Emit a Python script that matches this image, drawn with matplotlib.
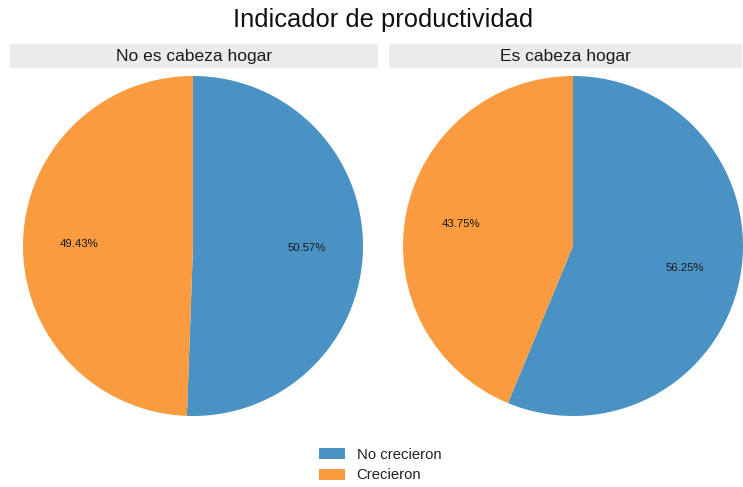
import matplotlib
matplotlib.use("Agg")
import matplotlib.pyplot as plt
from matplotlib.patches import Rectangle, Patch
import numpy as np

plt.rcParams['font.family'] = ['Liberation Sans', 'DejaVu Sans']

title = "Indicador de productividad"
categories = ["No crecieron", "Crecieron"]
groups = ["No es cabeza hogar", "Es cabeza hogar"]
no_cabeza = [50.57, 49.43]
cabeza = [56.25, 43.75]
series = [no_cabeza, cabeza]
colors = ["#4B92C4", "#F99B3E"]

W, H = 743, 487
fig = plt.figure(figsize=(W / 100, H / 100), dpi=100)

def fx(px):
    return px / W

def fy(py):
    return 1 - py / H

fig.text(fx(383), fy(20), title, ha="center", va="center", fontsize=18.4,
         color="#111111")

strip_boxes = [(10, 378), (389, 742)]
pie_centers = [193, 573]
radius_px = 170
center_y = 246

for grp, vals, (sx0, sx1), cx in zip(groups, series, strip_boxes, pie_centers):
    # facet strip
    fig.patches.append(Rectangle((fx(sx0), fy(68)), fx(sx1 - sx0), (68 - 44) / H,
                                 transform=fig.transFigure, facecolor="#EBEBEB",
                                 edgecolor="none", zorder=0))
    fig.text(fx((sx0 + sx1) / 2), fy(56), grp, ha="center", va="center",
             fontsize=12.5, color="#1a1a1a")

    ax = fig.add_axes([fx(cx - radius_px), fy(center_y + radius_px),
                       2 * radius_px / W, 2 * radius_px / H])
    ax.pie(vals, colors=colors, startangle=90, counterclock=False, radius=1,
           wedgeprops=dict(linewidth=0))
    ax.set_xlim(-1, 1)
    ax.set_ylim(-1, 1)
    ax.set_aspect("equal")
    ax.axis("off")

    total = sum(vals)
    start = 0.0
    for v in vals:
        mid = (start + v / 2) / total * 2 * np.pi
        r = 0.67
        ax.text(r * np.sin(mid), r * np.cos(mid), f"{v:.2f}%", ha="center",
                va="center", fontsize=8.2, color="#1a1a1a")
        start += v

handles = [Patch(facecolor=c, edgecolor="none", label=l) for c, l in zip(colors, categories)]
fig.legend(handles=handles, loc="center", bbox_to_anchor=(fx(380), fy(465)),
           frameon=False, fontsize=10.7, handlelength=1.8, handleheight=0.75,
           handletextpad=0.75, labelspacing=0.45, labelcolor="#222222")

fig.savefig("out.png", dpi=100, facecolor="white")
